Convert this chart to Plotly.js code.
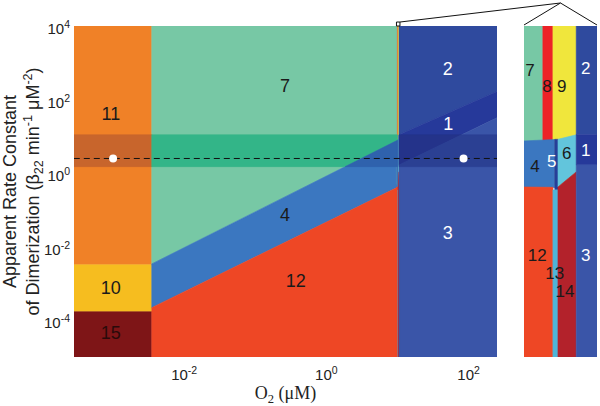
<!DOCTYPE html>
<html><head><meta charset="utf-8">
<script src="https://cdn.plot.ly/plotly-3.0.1.min.js"></script>
<style>html,body{margin:0;padding:0;background:#fff}</style>
</head><body><div id="chart" style="width:600px;height:406px"></div>
<script>
// ---------------- data (O2 in µM, k in min^-1 µM^-2) ----------------
const o2Edges = [2.8e-4, 0.0035, 9.98, 10.51, 260];   // main column edges
const kLimits = [1e-5, 1e4];
const leftColK = [1.7e-4, 3.2e-3];                   // 15|10 and 10|11 boundaries
const upperLineO2 = [0.0035, 9.98];                  // 7 | 4 boundary
const upperLineK = [0.0034, 7.8];
const lowerLineO2 = [0.0035, 9.98];                  // 4 | 12 boundary
const lowerLineK = [2.2e-4, 0.41];
const region1TopO2 = [10.51, 260];
const region1TopK = [11, 170];
const region1BotO2 = [10.51, 260];
const region1BotK = [1.67, 33];
const bandK = [1.5, 11];
const dashedK = [2.5, 2.5];
const dashedO2 = [2.8e-4, 260];
const dotO2 = [0.001, 85];
const dotK = [2.5, 2.5];

// inset (zoom on the O2 ≈ 10 µM strip)
const insetRange = [9.68, 10.84];
const in7X = [9.68, 9.98, 9.98, 9.68],   in7K = [0.5, 0.5, 1e4, 1e4];
const in8X = [9.98, 10.14, 10.14, 9.98], in8K = [0.5, 0.5, 1e4, 1e4];
const in9X = [10.14, 10.51, 10.51, 10.14], in9K = [0.5, 0.5, 1e4, 1e4];
const in4X = [9.68, 10.17, 10.17, 9.68], in4K = [0.42, 0.40, 8.2, 7.5];
const in5X = [10.17, 10.22, 10.22, 10.17], in5K = [0.35, 0.35, 8.3, 8.3];
const in6X = [10.22, 10.51, 10.51, 10.22], in6K = [0.42, 1.08, 11, 8.3];
const in12X = [9.68, 10.14, 10.14, 9.68], in12K = [1e-5, 1e-5, 0.41, 0.42];
const in13X = [10.14, 10.22, 10.22, 10.14], in13K = [1e-5, 1e-5, 0.35, 0.35];
const in14X = [10.22, 10.51, 10.51, 10.22], in14K = [1e-5, 1e-5, 1.08, 0.42];
const in2X = [10.51, 10.84, 10.84, 10.51], in2K = [11, 11, 1e4, 1e4];
const in1X = [10.51, 10.84, 10.84, 10.51], in1K = [1.67, 1.67, 11, 11];
const in3X = [10.51, 10.84, 10.84, 10.51], in3K = [1e-5, 1e-5, 1.67, 1.67];

// region labels
const mainLabels = ['7', '11', '10', '15', '4', '12', '2', '1', '3'];
const mainLabelO2 = [0.262, 0.00093, 0.00093, 0.00093, 0.262, 0.37, 51, 52, 51];
const mainLabelK = [207, 38, 6.7e-4, 4e-5, 0.065, 1.05e-3, 600, 20, 0.022];
const mainLabelColor = ['#1a1a1a','#1a1a1a','#1a1a1a','#2a0a0a','#1a1a1a','#1a1a1a','#fff','#fff','#fff'];
const insetLabels = ['7', '8', '9', '2', '4', '5', '6', '1', '12', '13', '14', '3'];
const insetLabelO2 = [9.775, 10.045, 10.28, 10.66, 9.855, 10.12, 10.36, 10.66, 9.89, 10.17, 10.33, 10.66];
const insetLabelK = [560, 207, 207, 630, 1.38, 1.9, 3.1, 3.77, 5.3e-3, 1.7e-3, 5.5e-4, 5.3e-3];
const insetLabelColor = ['#1a1a1a','#1a1a1a','#1a1a1a','#fff','#1a1a1a','#fff','#1a1a1a','#fff','#1a1a1a','#1a1a1a','#1a1a1a','#fff'];

const xTickVals = [0.01, 1, 100];
const xTickText = ['10<sup>-2</sup>', '10<sup>0</sup>', '10<sup>2</sup>'];
const yTickVals = [1e-4, 1e-2, 1, 1e2, 1e4];
const yTickText = ['10<sup>-4</sup>', '10<sup>-2</sup>', '10<sup>0</sup>', '10<sup>2</sup>', '10<sup>4</sup>'];

// ---------------- styles ----------------
const C = {
  r11: '#f08127', r10: '#f6bd1f', r15: '#7e1517', r7: '#77c8a5', r4: '#3b77c0', r12: '#ee4725',
  r2: '#2f4a9e', r1: '#26399a', r3: '#3a55a8', r8: '#ec2227', r9: '#f0e63c', r5: '#273f98',
  r6: '#62c5dc', r13: '#4fb5d8', r14: '#b3222b'
};
const bandColor = { r11: '#c8652c', r7: '#33b588', r4: '#2f62ad', r2: '#283b90', r1: '#24338a', r3: '#2b4093' };

const mainFrac = 0.8088, insetFrac = 0.8604;
const xLogRange = [-3.55, 2.4];

// ---------------- build polygons ----------------
const [X0, XA, XS1, XS2, XM] = o2Edges;
const [KMIN, KMAX] = kLimits;
const mainPolys = {
  r11: [[X0, leftColK[1]], [XA, leftColK[1]], [XA, KMAX], [X0, KMAX]],
  r10: [[X0, leftColK[0]], [XA, leftColK[0]], [XA, leftColK[1]], [X0, leftColK[1]]],
  r15: [[X0, KMIN], [XA, KMIN], [XA, leftColK[0]], [X0, leftColK[0]]],
  r7: [[upperLineO2[0], upperLineK[0]], [upperLineO2[1], upperLineK[1]], [XS1, KMAX], [XA, KMAX]],
  r4: [[lowerLineO2[0], lowerLineK[0]], [lowerLineO2[1], lowerLineK[1]], [upperLineO2[1], upperLineK[1]], [upperLineO2[0], upperLineK[0]]],
  r12: [[XA, KMIN], [XS1, KMIN], [lowerLineO2[1], lowerLineK[1]], [lowerLineO2[0], lowerLineK[0]]],
  r2: [[region1TopO2[0], region1TopK[0]], [region1TopO2[1], region1TopK[1]], [XM, KMAX], [XS2, KMAX]],
  r1: [[region1BotO2[0], region1BotK[0]], [region1BotO2[1], region1BotK[1]], [region1TopO2[1], region1TopK[1]], [region1TopO2[0], region1TopK[0]]],
  r3: [[XS2, KMIN], [XM, KMIN], [region1BotO2[1], region1BotK[1]], [region1BotO2[0], region1BotK[0]]]
};
const insetPolys = [
  ['r7', in7X, in7K], ['r8', in8X, in8K], ['r9', in9X, in9K],
  ['r4', in4X, in4K], ['r5', in5X, in5K], ['r6', in6X, in6K],
  ['r12', in12X, in12K], ['r13', in13X, in13K], ['r14', in14X, in14K],
  ['r2', in2X, in2K], ['r1', in1X, in1K], ['r3', in3X, in3K]
];

function polyTrace(xs, ys, color, xa) {
  return { type: 'scatter', mode: 'lines', x: xs.concat([xs[0]]), y: ys.concat([ys[0]]),
    fill: 'toself', fillcolor: color, line: { color: color, width: 0.6 },
    xaxis: xa, yaxis: 'y', hoverinfo: 'skip' };
}
function clipHalf(pts, inside, intersect) {
  const out = [];
  for (let i = 0; i < pts.length; i++) {
    const cur = pts[i], prev = pts[(i + pts.length - 1) % pts.length];
    const cIn = inside(cur), pIn = inside(prev);
    if (cIn) { if (!pIn) out.push(intersect(prev, cur)); out.push(cur); }
    else if (pIn) out.push(intersect(prev, cur));
  }
  return out;
}
const interY = yv => (a, b) => { const t = (yv - a[1]) / (b[1] - a[1]); return [a[0] + t * (b[0] - a[0]), yv]; };

const traces = [];
for (const key in mainPolys) {
  const p = mainPolys[key];
  traces.push(polyTrace(p.map(v => v[0]), p.map(v => v[1]), C[key], 'x'));
}
// strip structure drawn on main axes and inset
for (const xa of ['x', 'x2']) {
  insetPolys.forEach(([key, xs, ys]) => traces.push(polyTrace(xs, ys, C[key], xa)));
}
// band overlay (clipped pieces of each main region)
const lo = Math.log10(bandK[0]), hi = Math.log10(bandK[1]);
for (const key in bandColor) {
  let pts = mainPolys[key].map(v => [Math.log10(v[0]), Math.log10(v[1])]);
  pts = clipHalf(pts, q => q[1] >= lo, interY(lo));
  pts = clipHalf(pts, q => q[1] <= hi, interY(hi));
  if (pts.length > 2) traces.push(polyTrace(pts.map(q => Math.pow(10, q[0])), pts.map(q => Math.pow(10, q[1])), bandColor[key], 'x'));
}
// dashed line + dots
traces.push({ type: 'scatter', mode: 'lines', x: dashedO2, y: dashedK, xaxis: 'x', yaxis: 'y',
  line: { color: '#111', width: 1, dash: '6px,4px' }, hoverinfo: 'skip' });
traces.push({ type: 'scatter', mode: 'markers', x: dotO2, y: dotK, xaxis: 'x', yaxis: 'y',
  marker: { color: '#fff', size: 8, line: { width: 0 } }, hoverinfo: 'skip' });
// labels
traces.push({ type: 'scatter', mode: 'text', x: mainLabelO2, y: mainLabelK, text: mainLabels, xaxis: 'x', yaxis: 'y',
  textfont: { family: 'Liberation Sans, Arial, sans-serif', size: 18, color: mainLabelColor }, hoverinfo: 'skip' });
traces.push({ type: 'scatter', mode: 'text', x: insetLabelO2, y: insetLabelK, text: insetLabels, xaxis: 'x2', yaxis: 'y',
  textfont: { family: 'Liberation Sans, Arial, sans-serif', size: 17, color: insetLabelColor }, hoverinfo: 'skip', cliponaxis: false });

// connector (zoom) lines
const toPaperX = v => mainFrac * (Math.log10(v) - xLogRange[0]) / (xLogRange[1] - xLogRange[0]);
const bx0 = toPaperX(insetRange[0]), bx1 = toPaperX(insetRange[1]);
const apexX = (insetFrac + 1) / 2, apexY = 1.0695;
const lineStyle = { color: '#111', width: 1 };
const shapes = [
  { type: 'rect', xref: 'paper', yref: 'paper', x0: bx0, x1: bx1, y0: 1.0, y1: 1.012, line: lineStyle, fillcolor: 'rgba(0,0,0,0)' },
  { type: 'line', xref: 'paper', yref: 'paper', x0: bx1, y0: 1.012, x1: apexX, y1: apexY, line: lineStyle },
  { type: 'line', xref: 'paper', yref: 'paper', x0: apexX, y0: apexY, x1: insetFrac, y1: 1.003, line: lineStyle },
  { type: 'line', xref: 'paper', yref: 'paper', x0: apexX, y0: apexY, x1: 1, y1: 1.003, line: lineStyle }
];

const layout = {
  width: 600, height: 406,
  margin: { l: 74, r: 3, t: 26, b: 49 },
  paper_bgcolor: '#fff', plot_bgcolor: '#fff',
  showlegend: false, hovermode: false,
  font: { family: 'Liberation Sans, Arial, sans-serif', color: '#222', size: 13 },
  xaxis: { type: 'log', domain: [0, mainFrac], range: xLogRange, anchor: 'y',
    tickmode: 'array', tickvals: xTickVals, ticktext: xTickText, ticks: '', showgrid: false, zeroline: false, showline: false,
    tickfont: { size: 15, color: '#222' }, ticklabelstandoff: 7,
    title: { text: 'O<sub>2</sub> (μM)', font: { family: 'Liberation Serif, Times New Roman, serif', size: 18, color: '#222' }, standoff: 1 } },
  yaxis: { type: 'log', domain: [0, 1], range: [-5, 4], anchor: 'x',
    tickmode: 'array', tickvals: yTickVals, ticktext: yTickText, ticks: '', showgrid: false, zeroline: false, showline: false,
    tickfont: { size: 15, color: '#222' }, ticklabelstandoff: 3, ticklabelshift: 3,
    title: { text: 'Apparent Rate Constant<br>of Dimerization (β<sub>22</sub> min<sup>-1</sup> μM<sup>-2</sup>)', font: { size: 18, color: '#222' }, standoff: 1 } },
  xaxis2: { domain: [insetFrac, 1], range: insetRange, anchor: 'y', visible: false, showgrid: false, zeroline: false },
  shapes: shapes
};

Plotly.newPlot('chart', traces, layout, { staticPlot: true, displayModeBar: false });
</script>
</body></html>
